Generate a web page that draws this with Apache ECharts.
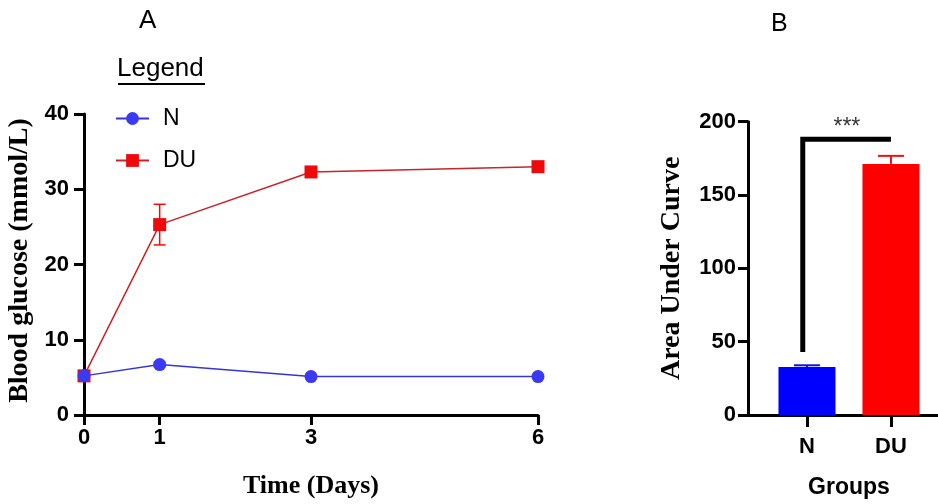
<!DOCTYPE html>
<html><head><meta charset="utf-8">
<script src="https://cdn.jsdelivr.net/npm/echarts@6/dist/echarts.min.js"></script>
<style>html,body{margin:0;padding:0;background:#fff}#c{width:938px;height:504px}</style>
</head><body><div id="c"></div>
<script>
// Panel A data
const days = [0, 1, 3, 6];
const nMean = [5.2, 6.7, 5.1, 5.1];
const nErr = [0.2, 0.3, 0.2, 0.2];
const duMean = [5.2, 25.3, 32.3, 33.0];
const duErr = [0.3, 2.7, 0.4, 0.4];
const yTicksA = [0, 10, 20, 30, 40];
// Panel B data
const groups = ['N', 'DU'];
const aucMean = [32.7, 171.2];
const aucErr = [1.2, 5.5];
const yTicksB = [0, 50, 100, 150, 200];
const sigLabel = '***';
const sigLevel = 188;
const sigStart = 43;

const colN = '#3a3af2', colNLine = '#3434d8';
const colDU = '#ee0a0a', colDULine = '#c8242a';
const barCols = ['#0000ff', '#ff0000'];
const barErrCols = ['#1010e0', '#ee1010'];

const sans = 'Liberation Sans, Arial, sans-serif';
const serif = 'Liberation Serif, Times New Roman, serif';

function errA(color) {
  return function (params, api) {
    const x = api.value(0), m = api.value(1), e = api.value(2);
    const top = api.coord([x, m + e]), bot = api.coord([x, m - e]);
    const hw = 6;
    const st = {stroke: color, lineWidth: 1.5};
    return {type: 'group', children: [
      {type: 'line', shape: {x1: top[0], y1: top[1], x2: bot[0], y2: bot[1]}, style: st},
      {type: 'line', shape: {x1: top[0]-hw, y1: top[1], x2: top[0]+hw, y2: top[1]}, style: st},
      {type: 'line', shape: {x1: bot[0]-hw, y1: bot[1], x2: bot[0]+hw, y2: bot[1]}, style: st}
    ]};
  };
}

const chart = echarts.init(document.getElementById('c'), null, {renderer: 'canvas'});
const axisLine = {show: true, onZero: false, lineStyle: {color: '#000', width: 3}};
const axisTick = {show: true, length: 10, lineStyle: {color: '#000', width: 3}};
const tickLbl = {color: '#000', fontFamily: sans, fontWeight: 'bold', fontSize: 22};

chart.setOption({
  animation: false,
  backgroundColor: '#fff',
  grid: [
    {left: 84, right: 400, top: 114, bottom: 86},
    {left: 748, right: 0, top: 121.7, bottom: 86.3}
  ],
  xAxis: [
    {gridIndex: 0, type: 'value', min: 0, max: 6,
     axisLine: axisLine,
     axisTick: Object.assign({customValues: days}, axisTick),
     axisLabel: Object.assign({customValues: days, margin: 12}, tickLbl),
     splitLine: {show: false},
     name: 'Time (Days)', nameLocation: 'middle', nameGap: 58,
     nameTextStyle: {fontFamily: serif, fontWeight: 'bold', fontSize: 26, color: '#000'}},
    {gridIndex: 1, type: 'value', min: -0.702, max: 1.56,
     axisLine: axisLine,
     axisTick: Object.assign({customValues: [0, 1]}, axisTick, {length: 12}),
     axisLabel: Object.assign({customValues: [0, 1], margin: 21,
       formatter: v => groups[Math.round(v)]}, tickLbl),
     splitLine: {show: false},
     name: 'Groups', nameLocation: 'middle', nameGap: 61,
     nameTextStyle: {fontFamily: sans, fontWeight: 'bold', fontSize: 23, color: '#000', padding: [0, 0, 0, 12]}}
  ],
  yAxis: [
    {gridIndex: 0, type: 'value', min: 0, max: 40, interval: 10,
     axisLine: axisLine, axisTick: axisTick,
     axisLabel: Object.assign({margin: 15}, tickLbl),
     splitLine: {show: false},
     name: 'Blood glucose (mmol/L)', nameLocation: 'middle', nameGap: 50, nameRotate: 90,
     nameTextStyle: {fontFamily: serif, fontWeight: 'bold', fontSize: 28, color: '#000', padding: [0, 0, 0, 8]}},
    {gridIndex: 1, type: 'value', min: 0, max: 200, interval: 50,
     axisLine: axisLine, axisTick: axisTick,
     axisLabel: Object.assign({margin: 12}, tickLbl),
     splitLine: {show: false},
     name: 'Area Under Curve', nameLocation: 'middle', nameGap: 62, nameRotate: 90,
     nameTextStyle: {fontFamily: serif, fontWeight: 'bold', fontSize: 28, color: '#000'}}
  ],
  legend: {
    data: ['N', 'DU'], orient: 'vertical', left: 110, top: 102,
    itemWidth: 33, itemHeight: 16, itemGap: 19,
    textStyle: {fontFamily: sans, fontSize: 23, color: '#000', padding: [0, 0, 0, 9]}
  },
  graphic: [
    {type: 'text', left: 139, top: 8, style: {text: 'A', font: '26px ' + sans, fill: '#000'}},
    {type: 'text', left: 771, top: 12, style: {text: 'B', font: '25px ' + sans, fill: '#000'}},
    {type: 'text', left: 117, top: 56, style: {text: 'Legend', font: '26px ' + sans, fill: '#000'}},
    {type: 'line', shape: {x1: 118, y1: 84, x2: 205, y2: 84}, style: {stroke: '#000', lineWidth: 2}}
  ],
  series: [
    {name: 'N', type: 'line', xAxisIndex: 0, yAxisIndex: 0,
     data: days.map((d, i) => [d, nMean[i]]),
     symbol: 'circle', symbolSize: 13, z: 3,
     itemStyle: {color: colN}, lineStyle: {color: colNLine, width: 1.5}},
    {name: 'DU', type: 'line', xAxisIndex: 0, yAxisIndex: 0,
     data: days.map((d, i) => [d, duMean[i]]),
     symbol: 'rect', symbolSize: 13, z: 2,
     itemStyle: {color: colDU}, lineStyle: {color: colDULine, width: 1.5}},
    {type: 'custom', xAxisIndex: 0, yAxisIndex: 0, z: 1,
     data: days.map((d, i) => [d, duMean[i], duErr[i]]), renderItem: errA(colDU)},
    {type: 'custom', xAxisIndex: 0, yAxisIndex: 0, z: 1,
     data: days.map((d, i) => [d, nMean[i], nErr[i]]), renderItem: errA(colN)},
    {type: 'bar', xAxisIndex: 1, yAxisIndex: 1, barWidth: 57,
     data: groups.map((g, i) => ({value: [i, aucMean[i]], itemStyle: {color: barCols[i]}}))},
    {type: 'custom', xAxisIndex: 1, yAxisIndex: 1, z: 1,
     data: groups.map((g, i) => [i, aucMean[i], aucErr[i]]),
     renderItem: function (params, api) {
       const x = api.value(0), m = api.value(1), e = api.value(2);
       const top = api.coord([x, m + e]), base = api.coord([x, m]);
       const st = {stroke: barErrCols[params.dataIndex], lineWidth: 2};
       return {type: 'group', children: [
         {type: 'line', shape: {x1: top[0], y1: top[1], x2: base[0], y2: base[1]}, style: st},
         {type: 'line', shape: {x1: top[0]-13, y1: top[1], x2: top[0]+13, y2: top[1]}, style: st}
       ]};
     }},
    {type: 'line', xAxisIndex: 1, yAxisIndex: 1, symbol: 'none', z: 5,
     lineStyle: {color: '#000', width: 5, cap: 'butt', join: 'miter'},
     data: [[-0.05, sigStart], [-0.05, sigLevel], [1, sigLevel]]},
    {type: 'scatter', xAxisIndex: 1, yAxisIndex: 1, symbolSize: 0,
     data: [[0.475, sigLevel]],
     label: {show: true, position: 'top', distance: 0, formatter: sigLabel,
       fontFamily: sans, fontSize: 23, color: '#000'}}
  ]
});
</script></body></html>
